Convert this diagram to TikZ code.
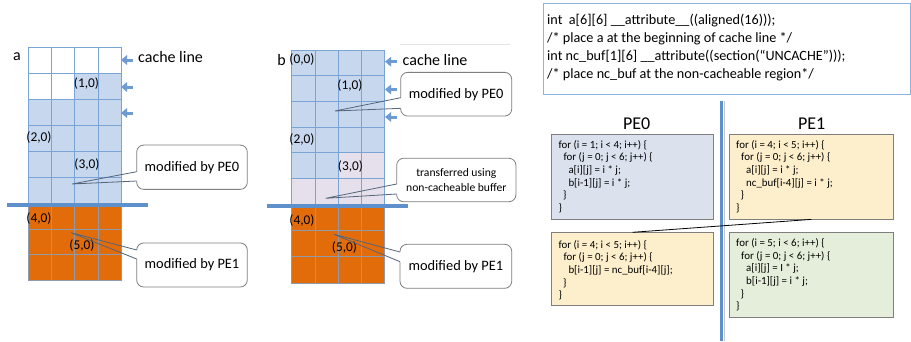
\documentclass[tikz,border=0pt]{standalone}
\usepackage{fontspec}
\setmainfont{Carlito}
\usetikzlibrary{arrows.meta}

\definecolor{cellblue}{HTML}{C6D7EE}
\definecolor{cellorange}{HTML}{E36C0A}
\definecolor{celllilac}{HTML}{E6E0EC}
\definecolor{gridblue}{HTML}{7AA3D6}
\definecolor{gridgray}{HTML}{8F9BAD}
\definecolor{barblue}{HTML}{5E91CB}
\definecolor{arrowblue}{HTML}{6E9CD2}
\definecolor{pezero}{HTML}{DBE2EE}
\definecolor{peone}{HTML}{FDEFCC}
\definecolor{pegreen}{HTML}{E4EEDA}
\definecolor{boxgray}{HTML}{7F7F7F}
\definecolor{pointer}{HTML}{55657A}
\definecolor{codeframe}{HTML}{8DB3E2}

\begin{document}
\begin{tikzpicture}[x=1pt,y=-1pt,
  callbox/.style={draw=boxgray, fill=white, rounded corners=7pt, line width=0.8pt,
    inner sep=0pt, align=center, font=\fontsize{14.4}{17}\selectfont},
  callline/.style={draw=pointer, line width=0.8pt},
  gaplink/.style={draw=white, line width=1.8pt},
  celllabel/.style={inner sep=0pt, font=\fontsize{13.4}{15}\selectfont},
  arrname/.style={inner sep=0pt, font=\fontsize{16}{18}\selectfont},
  lineptr/.style={draw=arrowblue, line width=3pt, -{Triangle[length=6pt,width=9.5pt]}},
  cachebar/.style={draw=barblue, line width=4.5pt},
  pebox/.style={draw=boxgray, line width=0.8pt, inner sep=0pt},
  code/.style={anchor=north west, inner sep=0pt, align=left, font=\fontsize{10.9}{12.7}\selectfont},
  pehead/.style={inner sep=0pt, font=\fontsize{18}{20}\selectfont}]

\useasboundingbox (0,0) rectangle (911,341);
\fill[white] (0,0) rectangle (911,341);

% ---------- array a: 9 cache lines of 4 ints ----------
\foreach \r in {0,...,8}{
  \foreach \c in {0,...,3}{
    \pgfmathtruncatemacro\k{4*\r+\c}
    \pgfmathsetmacro\yt{\r<6 ? 47.3+26*\r : 204+25.4*(\r-6)}
    \pgfmathsetmacro\yb{\r<6 ? 47.3+26*(\r+1) : 204+25.4*(\r-5)}
    \pgfmathsetmacro\xl{28.3+23.2*\c}
    \ifnum\k<6 \def\cc{white}\else\ifnum\k<24 \def\cc{cellblue}\else\def\cc{cellorange}\fi\fi
    \ifnum\k<24 \def\lc{gridblue}\else\def\lc{gridgray}\fi
    \filldraw[fill=\cc, draw=\lc, line width=0.8pt] (\xl,\yt) rectangle (\xl+23.2,\yb);
  }}

% ---------- array b ----------
\foreach \r in {0,...,8}{
  \foreach \c in {0,...,3}{
    \pgfmathtruncatemacro\k{4*\r+\c}
    \pgfmathsetmacro\yt{\r<6 ? 50+25.7*\r : 204+26.4*(\r-6)}
    \pgfmathsetmacro\yb{\r<6 ? 50+25.7*(\r+1) : 204+26.4*(\r-5)}
    \pgfmathsetmacro\xl{291.7+23.2*\c}
    \ifnum\k<18 \def\cc{cellblue}\else\ifnum\k<24 \def\cc{celllilac}\else\def\cc{cellorange}\fi\fi
    \ifnum\k<24 \def\lc{gridblue}\else\def\lc{gridgray}\fi
    \filldraw[fill=\cc, draw=\lc, line width=0.8pt] (\xl,\yt) rectangle (\xl+23.2,\yb);
  }}

% partition bars between the PE0 and PE1 parts
\draw[cachebar] (7,205) -- (147.7,205);
\draw[cachebar] (266.7,206) -- (408.3,206);

% array names and element labels
\node[arrname] (na) at (17,57) {a};
\node[arrname] (nb) at (281.7,59.5) {b};
\node[celllabel] (a10) at (86.5,84) {(1,0)};
\node[celllabel] (a20) at (39,138) {(2,0)};
\node[celllabel] (a30) at (87,165) {(3,0)};
\node[celllabel] (a40) at (39,219) {(4,0)};
\node[celllabel] (a50) at (82,246) {(5,0)};
\node[celllabel] (b00) at (302,59.5) {(0,0)};
\node[celllabel] (b10) at (350,86) {(1,0)};
\node[celllabel] (b20) at (302,140) {(2,0)};
\node[celllabel] (b30) at (350.5,166.7) {(3,0)};
\node[celllabel] (b40) at (302,221) {(4,0)};
\node[celllabel] (b50) at (344.5,248) {(5,0)};

% cache line markers
\foreach \y [count=\i] in {60,87,113}{
  \coordinate (ma\i) at (132.5,\y);
  \coordinate (ta\i) at (121,\y);
  \draw[lineptr] (ma\i) -- (ta\i);
}
\foreach \y [count=\i] in {61.7,89.5,117}{
  \coordinate (mb\i) at (396.5,\y);
  \coordinate (tb\i) at (385,\y);
  \draw[lineptr] (mb\i) -- (tb\i);
}
\node[arrname, anchor=west] (cla) at (138,57) {cache line};
\node[arrname, anchor=west] (clb) at (402.5,59.5) {cache line};
\draw[gray!22, line width=0.6pt] (400,44.3) -- (510,44.3);

% ---------- callouts ----------
% a: modified by PE0
\node[callbox, minimum width=110.6, minimum height=44.3] (caz) at (192,167.2) {modified by PE0};
\coordinate (caztip) at (72,184);
\coordinate (caz1) at (136.7,171.7);
\coordinate (caz2) at (136.7,181);
\draw[gaplink] (caz1) -- (caz2);
\draw[callline] (caz1) -- (caztip) -- (caz2);

% a: modified by PE1
\node[callbox, minimum width=110.6, minimum height=44] (cao) at (192,265) {modified by PE1};
\coordinate (caotip) at (71,232.7);
\coordinate (cao1) at (136.7,250);
\coordinate (cao2) at (136.7,259);
\draw[gaplink] (cao1) -- (cao2);
\draw[callline] (cao1) -- (caotip) -- (cao2);

% b: modified by PE0
\node[callbox, minimum width=111, minimum height=43.7] (cbz) at (456.2,94.2) {modified by PE0};
\coordinate (cbztip) at (335,111);
\coordinate (cbz1) at (400.7,97.7);
\coordinate (cbz2) at (400.7,108.3);
\draw[gaplink] (cbz1) -- (cbz2);
\draw[callline] (cbz1) -- (cbztip) -- (cbz2);

% b: transferred through the non-cacheable buffer
\node[callbox, minimum width=119.3, minimum height=43.4,
      font=\fontsize{11.6}{14.6}\selectfont] (cbt) at (456.3,180)
      {transferred using\\non-cacheable buffer};
\coordinate (cbttip) at (325.7,198.3);
\coordinate (cbt1) at (396.7,184);
\coordinate (cbt2) at (396.7,194);
\draw[gaplink] (cbt1) -- (cbt2);
\draw[callline] (cbt1) -- (cbttip) -- (cbt2);

% b: modified by PE1
\node[callbox, minimum width=111.7, minimum height=44] (cbo) at (455.85,266.3) {modified by PE1};
\coordinate (cbotip) at (334,234.3);
\coordinate (cbo1) at (400,252);
\coordinate (cbo2) at (400,261.7);
\draw[gaplink] (cbo1) -- (cbo2);
\draw[callline] (cbo1) -- (cbotip) -- (cbo2);

% ---------- declarations ----------
\node[draw=codeframe, line width=0.9pt, minimum width=367, minimum height=91.5, inner sep=0pt]
  (decl) at (726.5,48.8) {};
\node[anchor=north west, inner sep=0pt, align=left, font=\fontsize{14.2}{18.2}\selectfont]
  (decltext) at (547,13.5)
  {int\ \ a[6][6] \_\_attribute\_\_((aligned(16)));\\
   /* place a at the beginning of cache line */\\
   int nc\_buf[1][6] \_\_attribute((section(“UNCACHE”)));\\
   /* place nc\_buf at the non-cacheable region*/};

% ---------- PE code ----------
\fill[gray!45] (723.6,100.7) -- (723.6,341) -- (724.8,341) -- (724.8,100.7) -- cycle;
\draw[draw=barblue, line width=2.7pt] (721.7,100.7) -- (721.7,341);

\node[pehead] (hzero) at (636.7,124) {PE0};
\node[pehead] (hone) at (811.7,124) {PE1};

\node[pebox, fill=pezero, minimum width=161.6, minimum height=84.7] (pza) at (632.5,176.65) {};
\node[pebox, fill=peone, minimum width=164, minimum height=84.7] (poa) at (811.3,176.65) {};
\node[pebox, fill=peone, minimum width=161.6, minimum height=72.3] (pob) at (632.5,268.85) {};
\node[pebox, fill=pegreen, minimum width=164, minimum height=84.6] (pzb) at (811.3,275) {};

\draw[line width=0.8pt] (poa.south) -- (pob.north);

\node[code] (pzatext) at (558.3,140)
  {for (i = 1; i < 4; i++) \{\\
   \hspace*{5pt}for (j = 0; j < 6; j++) \{\\
   \hspace*{10pt}a[i][j] = i * j;\\
   \hspace*{10pt}b[i-1][j] = i * j;\\
   \hspace*{4.5pt}\}\\
   \}};
\node[code] (poatext) at (736,140)
  {for (i = 4; i < 5; i++) \{\\
   \hspace*{5pt}for (j = 0; j < 6; j++) \{\\
   \hspace*{10pt}a[i][j] = i * j;\\
   \hspace*{10pt}nc\_buf[i-4][j] = i * j;\\
   \hspace*{4.5pt}\}\\
   \}};
\node[code] (pobtext) at (558.3,240)
  {for (i = 4; i < 5; i++) \{\\
   \hspace*{5pt}for (j = 0; j < 6; j++) \{\\
   \hspace*{10pt}b[i-1][j] = nc\_buf[i-4][j];\\
   \hspace*{4.5pt}\}\\
   \}};
\node[code] (pzbtext) at (736,238.3)
  {for (i = 5; i < 6; i++) \{\\
   \hspace*{5pt}for (j = 0; j < 6; j++) \{\\
   \hspace*{10pt}a[i][j] = I * j;\\
   \hspace*{10pt}b[i-1][j] = i * j;\\
   \hspace*{4.5pt}\}\\
   \}};
\end{tikzpicture}
\end{document}
